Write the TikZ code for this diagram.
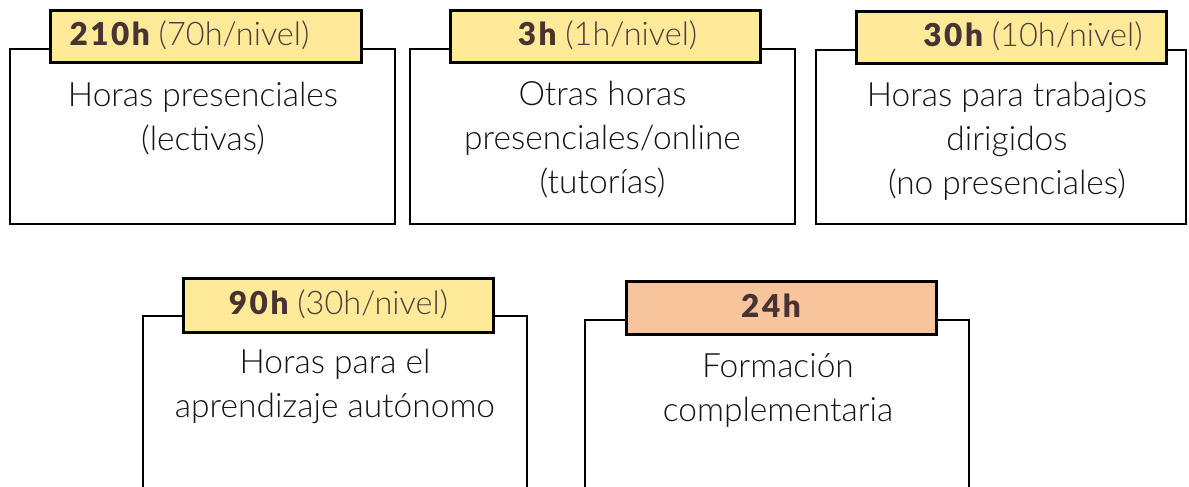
\documentclass[tikz,border=0pt]{standalone}
\usepackage{fontspec}
\setmainfont{Lato Light}
\newfontfamily\heavy{Lato Black}[LetterSpace=8]
\definecolor{tabyellow}{HTML}{FFEA9A}
\definecolor{taborange}{HTML}{F7C49B}
\definecolor{tabtext}{HTML}{473333}
\definecolor{tabsub}{HTML}{4D3D3D}
\definecolor{bodytext}{HTML}{141414}
\begin{document}
\begin{tikzpicture}[x=1pt,y=-1pt,
 card/.style={draw=black, line width=2.5pt, fill=white, anchor=north west, inner sep=0pt, outer sep=0pt},
 tab/.style={draw=black, line width=3pt, anchor=north west, inner sep=0pt, outer sep=0pt},
 body/.style={anchor=north, inner sep=0pt, align=center, text=bodytext, font=\fontsize{33.5}{44}\selectfont},
 tabtxt/.style={anchor=base, inner sep=0pt, text=tabsub, font=\fontsize{32.5}{36}\selectfont}]
\useasboundingbox (0,0) rectangle (1189,487);
\clip (0,0) rectangle (1189,487);
% box 1
\node[card, minimum width=385pt, minimum height=175pt] (b1) at (10,49) {};
\node[tab, fill=tabyellow, minimum width=311pt, minimum height=52pt] (t1) at (50,11) {};
\node[tabtxt] (l1) at (189.5,46) {{\heavy\fontsize{31.5}{36}\selectfont\color{tabtext}210h} (70h/nivel)};
\node[body] (x1) at (203,82) {Horas presenciales\\(lectivas)};
% box 2
\node[card, minimum width=385pt, minimum height=175pt] (b2) at (410,49) {};
\node[tab, fill=tabyellow, minimum width=310pt, minimum height=52pt] (t2) at (450,11) {};
\node[tabtxt] (l2) at (607.5,46) {{\heavy\fontsize{31.5}{36}\selectfont\color{tabtext}3h} (1h/nivel)};
\node[body] (x2) at (602.5,81) {Otras horas\\presenciales/online\\(tutorías)};
% box 3
\node[card, minimum width=370pt, minimum height=174pt] (b3) at (816,50) {};
\node[tab, fill=tabyellow, minimum width=310pt, minimum height=52pt] (t3) at (856,12) {};
\node[tabtxt] (l3) at (1033,47) {{\heavy\fontsize{31.5}{36}\selectfont\color{tabtext}30h} (10h/nivel)};
\node[body] (x3) at (1007,82) {Horas para trabajos\\dirigidos\\(no presenciales)};
% box 4
\node[card, minimum width=384pt, minimum height=204pt] (b4) at (143,316) {};
\node[tab, fill=tabyellow, minimum width=310pt, minimum height=54pt] (t4) at (183,278) {};
\node[tabtxt] (l4) at (338.5,314) {{\heavy\fontsize{31.5}{36}\selectfont\color{tabtext}90h} (30h/nivel)};
\node[body] (x4) at (335,349) {Horas para el\\aprendizaje autónomo};
% box 5
\node[card, minimum width=384pt, minimum height=200pt] (b5) at (585,320) {};
\node[tab, fill=taborange, minimum width=310pt, minimum height=53pt] (t5) at (626,281) {};
\node[tabtxt] (l5) at (771,317) {{\heavy\fontsize{31.5}{36}\selectfont\color{tabtext}24h}};
\node[body] (x5) at (778,353) {Formación\\complementaria};
\end{tikzpicture}
\end{document}
